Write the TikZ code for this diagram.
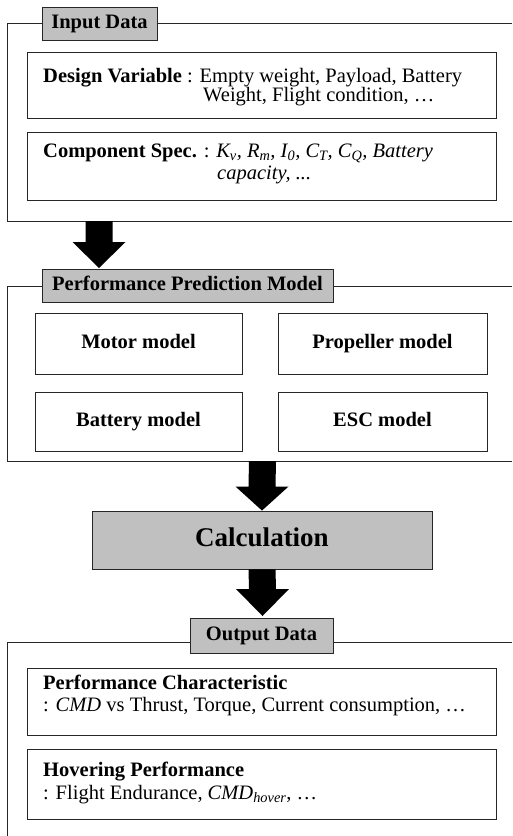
\documentclass[tikz,border=0pt]{standalone}
\usepackage{fontspec}
\setmainfont{Liberation Serif}
\usetikzlibrary{calc}
\definecolor{hdrgray}{HTML}{C0C0C0}
\newcommand\fatarrow[3]{%
  \fill[black] ($(#1)+(-13.5,0)$) -- ($(#2)+(-13.5,-#3)$) -- ($(#2)+(-26.5,-#3)$)
    -- (#2) -- ($(#2)+(26.5,-#3)$) -- ($(#2)+(13.5,-#3)$) -- ($(#1)+(13.5,0)$) -- cycle;}
\tikzset{
  frameline/.style={draw=black!85, line width=0.9pt},
  hdr/.style={draw=black!85, line width=0.9pt, fill=hdrgray, inner sep=0pt,
    text height=14pt, text depth=4.5pt,
    font=\fontsize{20.5}{24}\selectfont\bfseries},
  itembox/.style={draw=black!85, line width=0.9pt, inner sep=0pt,
    text height=14pt, text depth=4.5pt,
    font=\fontsize{20.5}{24}\selectfont\bfseries},
  txt/.style={anchor=base west, inner sep=0pt, font=\fontsize{20.5}{24}\selectfont},
}
\begin{document}
\begin{tikzpicture}[x=1pt,y=-1pt]
\useasboundingbox (0,0) rectangle (512,836);

% ---------- Input Data ----------
\draw[frameline] (512,23) -- (7,23) -- (7,221) -- (512,221);
\node[hdr, minimum width=115pt, minimum height=33pt] (t1) at (99.5,23.5) {Input Data};
\node[itembox, minimum width=469pt, minimum height=66pt] (dv) at (261.5,85) {};
\node[txt] (dv1) at (43,82) {\textbf{Design Variable} : Empty weight, Payload, Battery};
\node[txt] (dv2) at (203,101.5) {Weight, Flight condition, …};
\node[itembox, minimum width=469pt, minimum height=68pt] (cs) at (261.5,166) {};
\node[txt] (cs1) at (43,157) {\textbf{Component Spec.} : \textit{K\textsubscript{v}, R\textsubscript{m}, I\textsubscript{0}, C\textsubscript{T}, C\textsubscript{Q}, Battery}};
\node[txt] (cs2) at (217,179) {\textit{capacity, ...}};

% arrow 1
\coordinate (a1s) at (99,221);
\coordinate (a1e) at (99,268);
\fatarrow{a1s}{a1e}{26}

% ---------- Performance Prediction Model ----------
\draw[frameline] (512,286) -- (7,286) -- (7,461) -- (512,461);
\node[hdr, minimum width=291pt, minimum height=33pt] (t2) at (187.5,285.5) {Performance Prediction Model};
\node[itembox, minimum width=207pt, minimum height=61pt] (motor) at (138.5,343.5) {Motor model};
\node[itembox, minimum width=209pt, minimum height=61pt] (prop) at (382.5,343.5) {Propeller model};
\node[itembox, minimum width=207pt, minimum height=59pt] (batt) at (138.5,421.5) {Battery model};
\node[itembox, minimum width=209pt, minimum height=59pt] (esc) at (382.5,421.5) {ESC model};

% ---------- Calculation ----------
\node[draw=black!85, line width=0.9pt, fill=hdrgray, minimum width=340pt, minimum height=58pt,
  inner sep=0pt, text height=18pt, text depth=5pt,
  font=\fontsize{27}{30}\selectfont\bfseries] (calc) at (262,540) {Calculation};
\coordinate (a2s) at (262.5,461);
\fatarrow{a2s}{calc.north}{24}

% ---------- Output Data ----------
\draw[frameline] (512,642) -- (7,642) -- (7,836);
\node[hdr, minimum width=143pt, minimum height=35pt] (t3) at (261.5,635.5) {Output Data};
\coordinate (a3s) at (calc.south);
\coordinate (a3e) at (262.5,616);
\fatarrow{a3s}{a3e}{27}

\node[itembox, minimum width=469pt, minimum height=67pt] (pc) at (261.5,701.5) {};
\node[txt] (pc1) at (43,689) {\textbf{Performance Characteristic}};
\node[txt] (pc2) at (43,711.5) {: \textit{CMD} vs Thrust, Torque, Current consumption, …};
\node[itembox, minimum width=469pt, minimum height=70pt] (hp) at (261.5,784) {};
\node[txt] (hp1) at (43,776) {\textbf{Hovering Performance}};
\node[txt] (hp2) at (43,799) {: Flight Endurance, \textit{CMD\textsubscript{hover}}, …};
\end{tikzpicture}
\end{document}
